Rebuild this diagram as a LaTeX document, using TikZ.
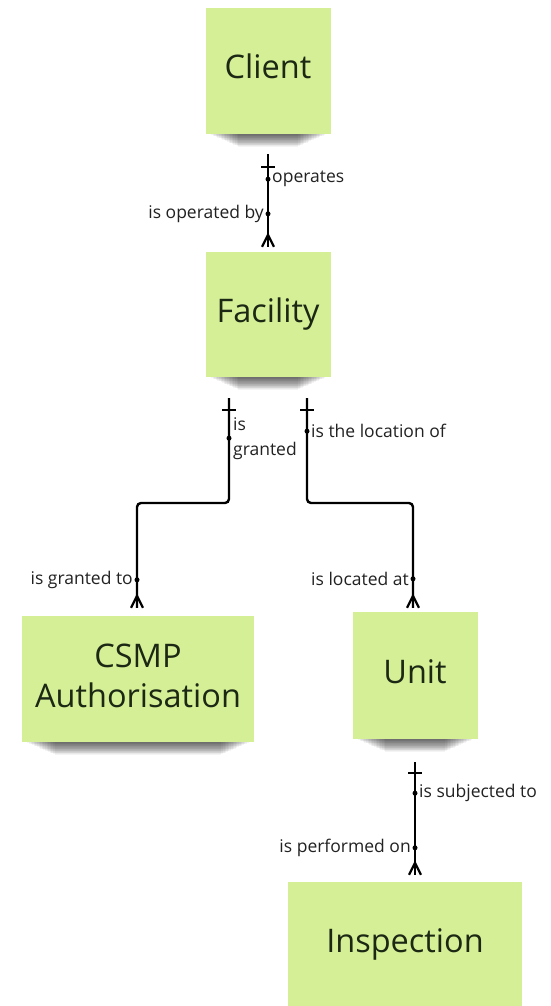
\documentclass[tikz,border=0pt]{standalone}
\usepackage{fontspec}
\setmainfont{Open Sans}
\usetikzlibrary{calc}
\definecolor{notefill}{RGB}{212,239,150}
\definecolor{notetext}{RGB}{28,40,20}
\definecolor{labeltext}{RGB}{34,34,34}
\newcommand\noteshadow[1]{%
  \foreach \k in {1,...,18}{%
    \fill[black, opacity=0.045] ($(#1.south west)+(4+1.6*\k,0)$) rectangle ($(#1.south east)+(-4-1.6*\k,0.7*\k)$);
  }%
}
\begin{document}
\begin{tikzpicture}[x=1pt,y=-1pt,
  note/.style={fill=notefill, text=notetext, font=\fontsize{32.5}{40}\selectfont, align=center, inner sep=0pt,
    text height=15pt, text depth=0pt},
  conn/.style={line width=2.4pt, black, rounded corners=4pt},
  tick/.style={line width=2.2pt, black},
  lbl/.style={font=\fontsize{17.5}{21}\selectfont, text=labeltext, inner sep=0pt},
  dot/.style={circle, fill=black, inner sep=0pt, minimum size=5pt},
  bar/.pic={\draw[tick] (-7,0) -- (7,0);},
  crow/.pic={\draw[tick] (-6,0) -- (0,-12) -- (6,0);},
]
\useasboundingbox[fill=white] (0,0) rectangle (550,1006);

% sticky notes
\node[note, minimum width=125pt, minimum height=126pt] (client) at (268,71) {Client};
\node[note, minimum width=125pt, minimum height=125pt] (facility) at (268,314.5) {Facility};
\node[note, minimum width=232pt, minimum height=126pt, text height=, text depth=6pt] (csmp) at (138,679) {CSMP\\Authorisation};
\node[note, minimum width=125pt, minimum height=127pt] (unit) at (415,675.5) {Unit};
\node[note, minimum width=234pt, minimum height=126pt] (inspection) at (405,945) {Inspection};
\noteshadow{client}
\noteshadow{facility}
\noteshadow{csmp}
\noteshadow{unit}

% Client -- Facility
\coordinate (c1a) at ($(client.south)+(0,20)$);
\coordinate (c1b) at ($(facility.north)+(0,-5)$);
\draw[conn] (c1a) -- (c1b);
\pic at ($(c1a)+(0,13)$) {bar};
\pic at (c1b) {crow};
\node[dot] (d1a) at ($(c1a)+(0,25)$) {};
\node[lbl, anchor=west] at ($(d1a)+(4,0)$) {operates};
\node[dot] (d1b) at ($(c1b)+(0,-33)$) {};
\node[lbl, anchor=east] at ($(d1b)+(-4,0)$) {is operated by};

% Facility -- CSMP Authorisation
\coordinate (c2a) at ($(facility.south)+(-39,21)$);
\coordinate (c2b) at ($(csmp.north)+(-1,-8)$);
\coordinate (m2) at ($(c2a)!0.5!(c2b)$);
\draw[conn] (c2a) |- (m2) -| (c2b);
\pic at ($(c2a)+(0,12)$) {bar};
\pic at (c2b) {crow};
\node[dot] (d2a) at ($(c2a)+(0,40)$) {};
\node[lbl, anchor=west, align=left, font=\fontsize{17.5}{25}\selectfont] at ($(d2a)+(4,0)$) {is\\granted};
\node[dot] (d2b) at ($(c2b)+(0,-28)$) {};
\node[lbl, anchor=east] at ($(d2b)+(-4,0)$) {is granted to};

% Facility -- Unit
\coordinate (c3a) at ($(facility.south)+(39,21)$);
\coordinate (c3b) at ($(unit.north)+(-2,-4)$);
\coordinate (m3) at ($(c3a)!0.5!(c3b)$);
\draw[conn] (c3a) |- (m3) -| (c3b);
\pic at ($(c3a)+(0,12)$) {bar};
\pic at (c3b) {crow};
\node[dot] (d3a) at ($(c3a)+(0,33)$) {};
\node[lbl, anchor=west] at ($(d3a)+(4,0)$) {is the location of};
\node[dot] (d3b) at ($(c3b)+(0,-29)$) {};
\node[lbl, anchor=east] at ($(d3b)+(-4,0)$) {is located at};

% Unit -- Inspection
\coordinate (c4a) at ($(unit.south)+(0,23)$);
\coordinate (c4b) at ($(inspection.north)+(10,-7)$);
\draw[conn] (c4a) -- (c4b);
\pic at ($(c4a)+(0,11)$) {bar};
\pic at (c4b) {crow};
\node[dot] (d4a) at ($(c4a)+(0,31)$) {};
\node[lbl, anchor=west] at ($(d4a)+(4,0)$) {is subjected to};
\node[dot] (d4b) at ($(c4b)+(0,-27)$) {};
\node[lbl, anchor=east] at ($(d4b)+(-4,0)$) {is performed on};
\end{tikzpicture}
\end{document}
